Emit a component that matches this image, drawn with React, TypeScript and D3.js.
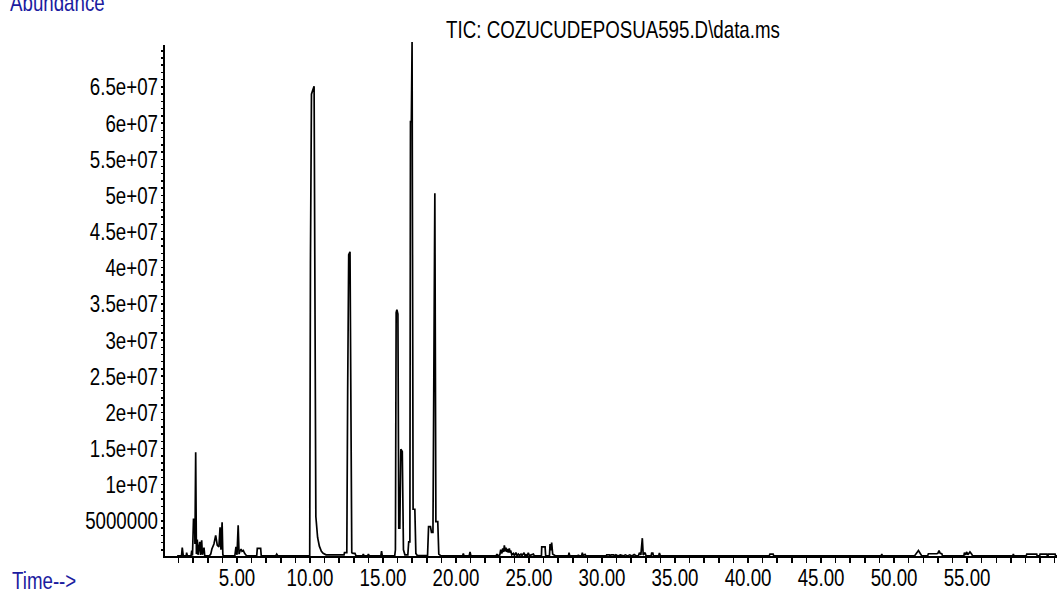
import React from 'react';
import * as d3 from 'd3';

// Retention time (min) and abundance (millions of counts)
const rt = [
  0.90, 1.20, 1.25, 1.32, 1.52, 1.55, 1.60, 1.85, 1.90, 1.95, 2.02, 2.10, 2.12, 2.17, 2.22, 2.28, 2.33, 2.45, 2.50, 2.58,
  2.63, 2.74, 2.79, 3.10, 3.20, 3.28, 3.42, 3.54, 3.65, 3.76, 3.84, 3.90, 3.98, 4.03, 4.10, 4.85, 4.93, 5.00, 5.08, 5.14,
  5.20, 5.28, 5.34, 5.43, 5.52, 5.60, 5.66, 6.35, 6.39, 6.62, 6.66, 7.65, 7.72, 7.80, 9.98, 10.03, 10.10, 10.18, 10.28, 10.40,
  10.52, 10.64, 10.78, 10.90, 11.10, 12.05, 12.33, 12.36, 12.52, 12.58, 12.65, 12.74, 12.86, 12.95, 13.08, 13.15, 13.60, 13.65, 13.70, 13.95,
  14.00, 14.05, 14.85, 14.90, 14.95, 15.80, 15.85, 15.90, 15.95, 16.02, 16.08, 16.15, 16.22, 16.32, 16.40, 16.50, 16.70, 16.76, 16.84, 16.88,
  16.94, 16.99, 17.06, 17.18, 17.25, 17.35, 18.05, 18.12, 18.25, 18.32, 18.42, 18.48, 18.55, 18.62, 18.75, 18.82, 18.95, 20.45, 20.50, 20.55,
  20.90, 20.96, 21.02, 22.75, 22.80, 22.85, 23.00, 23.06, 23.14, 23.20, 23.26, 23.31, 23.37, 23.42, 23.47, 23.52, 23.58, 23.65, 23.70, 23.74,
  23.82, 23.93, 24.00, 24.10, 24.18, 24.27, 24.35, 24.45, 24.52, 24.66, 24.72, 24.80, 24.88, 24.95, 25.02, 25.30, 25.36, 25.85, 25.87, 26.10,
  26.14, 26.40, 26.44, 26.50, 26.55, 26.62, 26.78, 27.70, 27.74, 27.79, 28.35, 28.38, 28.42, 28.60, 28.65, 28.70, 28.84, 28.90, 30.30, 30.32,
  30.50, 30.55, 30.62, 30.80, 30.85, 30.95, 31.10, 31.25, 31.45, 31.60, 31.75, 31.90, 32.05, 32.20, 32.35, 32.50, 32.56, 32.66, 32.76, 32.82,
  32.95, 33.02, 33.36, 33.40, 33.48, 33.52, 33.88, 33.93, 34.00, 41.45, 41.50, 41.72, 41.76, 49.12, 49.16, 49.20, 51.40, 51.67, 51.90, 52.30,
  52.35, 52.92, 53.00, 53.08, 53.16, 53.27, 53.32, 54.78, 54.82, 54.90, 54.98, 55.05, 55.20, 55.32, 55.38, 58.13, 58.17, 58.21, 59.05, 59.09,
  59.77, 59.80, 59.97, 60.00, 60.46, 60.50, 60.54, 60.57, 61.03, 61.06, 61.20,
];
const abund = [
  0.15, 0.15, 1.3, 0.15, 0.15, 0.6, 0.15, 0.15, 0.9, 0.2, 5.2, 5.2, 1.8, 14.5, 0.4, 2.4, 0.3, 2.1, 0.3, 2.3,
  0.3, 1.3, 0.15, 0.15, 0.4, 1.1, 1.8, 3.0, 1.6, 1.4, 4.1, 1.0, 4.8, 0.3, 0.15, 0.15, 1.4, 0.3, 4.4, 0.4,
  0.8, 1.1, 0.8, 0.9, 0.5, 0.3, 0.15, 0.15, 1.2, 1.2, 0.15, 0.15, 0.4, 0.15, 0.2, 40.8, 64.0, 64.5, 65.1, 5.6,
  2.7, 1.5, 0.8, 0.5, 0.3, 0.3, 0.3, 0.6, 0.6, 23.1, 41.8, 42.2, 0.6, 0.5, 0.5, 0.15, 0.15, 0.4, 0.15, 0.15,
  0.4, 0.15, 0.15, 0.8, 0.15, 0.15, 1.0, 33.8, 34.2, 33.6, 4.0, 4.0, 14.9, 14.6, 1.0, 0.3, 0.3, 2.1, 2.1, 60.2,
  60.2, 71.2, 6.6, 6.6, 0.5, 0.2, 0.2, 4.2, 4.2, 3.4, 3.4, 24.8, 50.3, 4.9, 4.9, 0.4, 0.2, 0.15, 0.5, 0.15,
  0.15, 0.7, 0.15, 0.15, 0.4, 0.15, 0.3, 1.0, 0.5, 1.2, 0.7, 1.6, 0.8, 1.3, 0.7, 1.1, 0.6, 1.2, 0.6, 0.9,
  0.3, 0.5, 0.2, 0.6, 0.2, 0.4, 0.2, 0.4, 0.2, 0.6, 0.2, 0.3, 0.2, 0.6, 0.2, 0.4, 0.15, 0.15, 1.4, 1.4,
  0.15, 0.2, 1.8, 0.9, 2.0, 0.4, 0.2, 0.15, 0.6, 0.15, 0.15, 0.3, 0.15, 0.15, 0.6, 0.2, 0.35, 0.15, 0.15, 0.3,
  0.3, 0.15, 0.3, 0.3, 0.15, 0.3, 0.15, 0.3, 0.15, 0.3, 0.15, 0.3, 0.15, 0.35, 0.15, 0.2, 0.6, 0.3, 2.6, 0.3,
  0.6, 0.15, 0.15, 0.55, 0.55, 0.15, 0.15, 0.55, 0.15, 0.15, 0.4, 0.4, 0.15, 0.15, 0.4, 0.15, 0.15, 0.9, 0.15, 0.15,
  0.45, 0.45, 0.5, 0.9, 0.5, 0.45, 0.15, 0.15, 0.6, 0.3, 0.7, 0.3, 0.7, 0.4, 0.15, 0.15, 0.4, 0.15, 0.15, 0.4,
  0.4, 0.15, 0.15, 0.4, 0.4, 0.15, 0.15, 0.4, 0.4, 0.15, 0.15,
];

const xLabelValues = [5, 10, 15, 20, 25, 30, 35, 40, 45, 50, 55];
const yTickValues = [5e6, 10e6, 15e6, 20e6, 25e6, 30e6, 35e6, 40e6, 45e6, 50e6, 55e6, 60e6, 65e6];
const yTickLabels = ['5000000', '1e+07', '1.5e+07', '2e+07', '2.5e+07', '3e+07', '3.5e+07', '4e+07', '4.5e+07', '5e+07', '5.5e+07', '6e+07', '6.5e+07'];
const titleText = 'TIC: COZUCUDEPOSUA595.D\\data.ms';

const W = 1057;
const H = 597;
const FONT = '"Liberation Sans", Arial, sans-serif';
const SX = 0.78;
const BLUE = '#1c1ca0';

export default function App() {
  const x = d3.scaleLinear().domain([0, 61.16]).range([164, 1057]);
  const y = d3.scaleLinear().domain([0, 70.8e6]).range([557, 45]);
  const pts: [number, number][] = rt.map((t, i) => [t, abund[i] * 1e6]);
  const line = d3.line<[number, number]>().x(d => x(d[0])).y(d => y(d[1]));
  const minorX = d3.range(1, 62);
  const minorY = d3.range(1, 71).map(v => v * 1e6);
  const fmt = d3.format('.2f');
  const t = (px: number, py: number) => `translate(${px},${py}) scale(${SX},1)`;

  return (
    <svg width={W} height={H} style={{ position: 'absolute', left: 0, top: 0, background: '#fff' }}>
      <rect x={0} y={0} width={W} height={H} fill="#fff" />
      {/* Abundance label (cut at top, as in the reference) */}
      <text transform={t(10, 11)} fontFamily={FONT} fontSize={24} fill={BLUE}>Abundance</text>
      {/* Title */}
      <text transform={t(613, 38)} textAnchor="middle" fontFamily={FONT} fontSize={24} fill="#000">{titleText}</text>
      {/* Axes */}
      <g shapeRendering="crispEdges" stroke="#000">
        <line x1={164} x2={164} y1={y(70.8e6)} y2={y(0) + 1} strokeWidth={2} />
        <line x1={164} x2={W} y1={y(0)} y2={y(0)} strokeWidth={2} />
        {minorX.map(v => (
          <line key={'xt' + v} x1={x(v)} x2={x(v)} y1={y(0)} y2={y(0) + 6} strokeWidth={1.5} />
        ))}
        {minorY.map(v => (
          <line key={'yt' + v} x1={161} x2={164} y1={y(v)} y2={y(v)} strokeWidth={1.5} />
        ))}
      </g>
      {xLabelValues.map(v => (
        <text key={'xl' + v} transform={t(x(v), 586)} textAnchor="middle" fontFamily={FONT} fontSize={24} fill="#000">{fmt(v)}</text>
      ))}
      {yTickValues.map((v, i) => (
        <text key={'yl' + v} transform={t(158, y(v) + 8.5)} textAnchor="end" fontFamily={FONT} fontSize={24} fill="#000">{yTickLabels[i]}</text>
      ))}
      <text transform={t(12, 589)} fontFamily={FONT} fontSize={24} fill={BLUE}>{'Time-->'}</text>
      {/* TIC trace */}
      <path d={line(pts) || ''} fill="none" stroke="#000" strokeWidth={1.7} strokeLinejoin="miter" strokeMiterlimit={2} />
    </svg>
  );
}
